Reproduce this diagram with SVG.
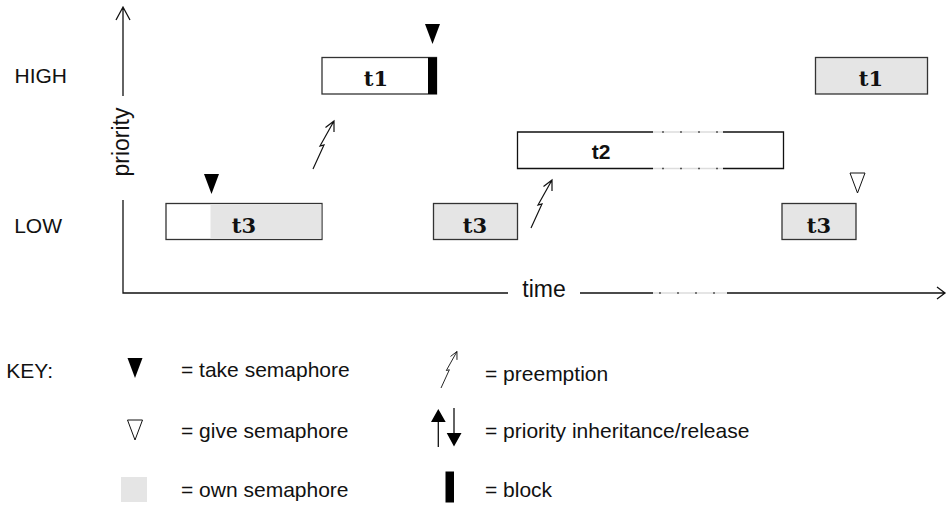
<svg xmlns="http://www.w3.org/2000/svg" width="947" height="506" viewBox="0 0 947 506">
<style>
.lbl{font-family:"Liberation Sans",Arial,sans-serif;font-size:21px;fill:#111}
.ax{font-family:"Liberation Sans",Arial,sans-serif;font-size:23px;fill:#111}
.tn{font-family:"DejaVu Serif","Liberation Serif",serif;font-weight:bold;font-size:21px;fill:#111;text-anchor:middle}
.ts{font-family:"Liberation Sans",Arial,sans-serif;font-weight:bold;font-size:21px;fill:#111;text-anchor:middle}
.box{stroke:#333;stroke-width:1.3}
.own{fill:#e5e5e5}
.line{stroke:#111;stroke-width:1.3;fill:none}
.gap{stroke:#ddd;stroke-width:1.3}
.gapd{stroke:#555;stroke-width:1.3;stroke-dasharray:2 16}
</style>
<defs>
<path id="take" d="M0,0 H15 L7.5,20 Z" fill="#000"/>
<path id="give" d="M0,0 H15 L7.5,20 Z" fill="#fff" stroke="#111" stroke-width="1"/>
<path id="bolt" d="M0,0 L11,-24 L7,-23 L21,-48 M12.5,-41.5 L21,-48 L21,-37" fill="none" stroke="#111" stroke-width="1.2"/>
</defs>

<g id="axes">
<path class="line" d="M123,96 V7 M116,20 L123,7 L130,20"/>
<path class="line" d="M123,200 V293 H508 M580,293 H653 M727,293 H945 M937,287 L945,293 L937,299"/>
<line class="gap" x1="653" y1="293" x2="727" y2="293"/>
<line class="gapd" x1="659" y1="293" x2="727" y2="293"/>
<text class="ax" transform="translate(129,142) rotate(-90)" text-anchor="middle">priority</text>
<text class="ax" x="544" y="297" text-anchor="middle">time</text>
</g>

<g id="labels">
<text class="lbl" x="67" y="83" text-anchor="end">HIGH</text>
<text class="lbl" x="62" y="233" text-anchor="end">LOW</text>
<text class="lbl" x="53" y="378" text-anchor="end">KEY:</text>
</g>

<g id="t3a">
<rect x="166" y="203.5" width="156" height="36" fill="#fff" class="box"/>
<rect x="210.5" y="204.2" width="110.8" height="34.6" class="own"/>
<text class="tn" x="244" y="233">t3</text>
<use href="#take" x="204" y="174"/>
</g>

<g id="t1a">
<rect x="322" y="57.5" width="114.5" height="36.5" fill="#fff" class="box"/>
<rect x="428" y="57.5" width="9" height="36.5" fill="#000"/>
<text class="tn" x="376" y="86">t1</text>
<use href="#take" x="425" y="24"/>
</g>

<g id="t3b">
<rect x="433.5" y="203.5" width="84" height="36" class="box own"/>
<text class="tn" x="475" y="233">t3</text>
</g>

<g id="t2">
<rect x="517.5" y="132" width="266" height="36.5" fill="#fff"/>
<path class="line" d="M653,132 H517.5 V168.5 H653 M723,132 H783.5 V168.5 H723"/>
<line class="gap" x1="653" y1="132" x2="723" y2="132"/>
<line class="gap" x1="653" y1="168.5" x2="723" y2="168.5"/>
<line class="gapd" x1="662" y1="132" x2="723" y2="132"/>
<line class="gapd" x1="662" y1="168.5" x2="723" y2="168.5"/>
<text class="ts" x="601" y="159">t2</text>
</g>

<g id="t3c">
<rect x="782" y="203.5" width="74" height="36" class="box own"/>
<text class="tn" x="819" y="233">t3</text>
<use href="#give" x="850" y="173"/>
</g>

<g id="t1b">
<rect x="815.5" y="57.5" width="112" height="36.5" class="box own"/>
<text class="tn" x="871" y="86">t1</text>
</g>

<g id="connectors">
<use href="#bolt" x="313" y="169"/>
<use href="#bolt" x="531" y="228"/>
</g>

<g id="key">
<use href="#take" x="127.5" y="358"/>
<text class="lbl" x="181" y="377">= take semaphore</text>
<use href="#give" x="127.5" y="420"/>
<text class="lbl" x="181" y="438">= give semaphore</text>
<rect x="121" y="477" width="26" height="25" class="own"/>
<text class="lbl" x="181" y="497">= own semaphore</text>

<use href="#bolt" transform="translate(441,388) scale(0.76)"/>
<text class="lbl" x="485" y="381">= preemption</text>
<path class="line" d="M438.3,447 V418 M454,408 V438"/>
<path d="M431,422 H445.7 L438.3,409 Z M446.7,433 H461.5 L454,446.5 Z" fill="#000"/>
<text class="lbl" x="485" y="438">= priority inheritance/release</text>
<rect x="445.5" y="471.5" width="8.5" height="31" fill="#000"/>
<text class="lbl" x="485" y="497">= block</text>
</g>
</svg>
